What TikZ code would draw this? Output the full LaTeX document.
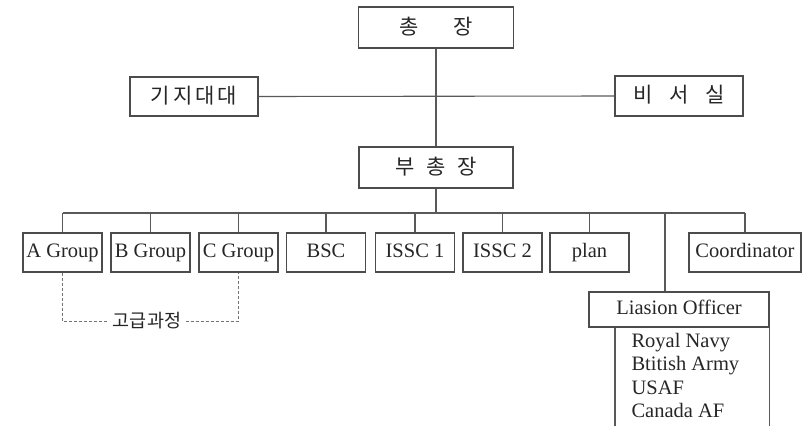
\documentclass[tikz,border=0pt]{standalone}
\usepackage{fontspec}
\setmainfont{Liberation Serif}
\newfontfamily\kr{Noto Sans CJK KR}
\begin{document}
\begin{tikzpicture}[x=1pt,y=-1pt,
  line width=1.1pt,
  ink/.style={draw=black!70},
  box/.style={ink, fill=white, inner sep=0pt, minimum height=39pt, minimum width=79pt,
    text height=14pt, text depth=4.5pt,
    font=\fontsize{20.5}{23}\selectfont, text=black!85},
  krbox/.style={box, text height=16pt, text depth=3pt, font=\kr\fontsize{21}{23}\selectfont},
  link/.style={draw=black!65},
  dlink/.style={draw=black!55, dash pattern=on 3pt off 2pt, line width=1pt}]
\useasboundingbox (0,0) rectangle (805,426);

% head office
\node[krbox, minimum width=155pt, minimum height=41pt] (top) at (436,27.5)
  {총\hspace{34pt}장};
\node[krbox, minimum width=128pt] (gj) at (194,96.5)
  {기\hspace{3pt}지\hspace{3pt}대\hspace{3pt}대};
\node[krbox, minimum width=128pt, minimum height=40pt] (bs) at (679,96)
  {비\hspace{17pt}서\hspace{17pt}실};
\node[krbox, minimum width=154pt, minimum height=41pt] (bu) at (436,167.5)
  {부\hspace{12pt}총\hspace{12pt}장};

% departments
\node[box] (A) at (62.5,252.5) {A Group};
\node[box] (B) at (150.5,252.5) {B Group};
\node[box] (C) at (238.5,252.5) {C Group};
\node[box] (bsc) at (326,252.5) {BSC};
\node[box] (is1) at (415,252.5) {ISSC 1};
\node[box] (is2) at (502.5,252.5) {ISSC 2};
\node[box] (plan) at (589.5,252.5) {plan};
\node[box, minimum width=112pt] (co) at (745,252.5) {Coordinator};

% liaison office
\node[box, minimum width=180pt, minimum height=35pt] (lo) at (679,309.5) {Liasion Officer};
\coordinate (lb) at (615,426);
\node[anchor=north west, align=left, inner sep=0pt, text=black!85,
  font=\fontsize{20.5}{23.2}\selectfont] (lst) at (631,333)
  {Royal Navy\\Btitish Army\\USAF\\Canada AF};

% connectors
\coordinate (busL) at (62.5,213);
\coordinate (busR) at (745,213);
\coordinate (lodrop) at (665,213);
\draw[link] (top.south) -- (bu.north);
\draw[link] (gj.east) -- (bs.west);
\draw[link] (bu.south) -- (bu.south |- busL);
\draw[link] (busL) -- (busR);
\foreach \n in {A,B,C,bsc,is1,is2,plan,co}
  \draw[link] (\n.north |- busL) -- (\n.north);
\draw[link] (lodrop) -- (lodrop |- lo.north);
\draw[link] (lb) -- (lb |- lo.south);
\draw[link] (lo.south east) -- (lo.south east |- lb);

% advanced course grouping
\node[font=\kr\fontsize{18.5}{20}\selectfont, text=black!85, inner sep=4pt] (gk) at (147,321) {고급과정};
\draw[dlink] (A.south) -- (A.south |- gk) -- (gk.west);
\draw[dlink] (gk.east) -- (C.south |- gk) -- (C.south);
\end{tikzpicture}
\end{document}
